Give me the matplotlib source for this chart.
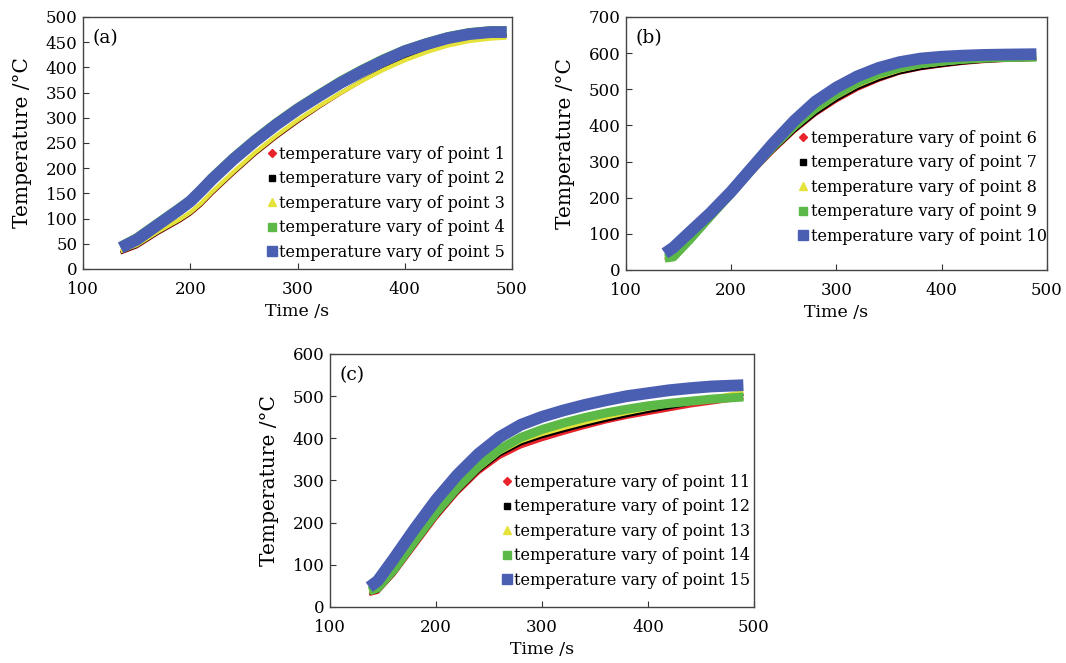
import matplotlib
matplotlib.use("Agg")
import matplotlib.pyplot as plt
from matplotlib.lines import Line2D

plt.rcParams['font.family'] = ['DejaVu Serif']
plt.rcParams['font.size'] = 11.5

# colours / markers used for the five measuring points in every panel
colors = ['#e8232b', '#000000', '#e6e23c', '#5cb947', '#4b5fb2']
markers = ['D', 's', '^', 's', 's']
msizes = [4, 5, 6, 6, 7.5]
widths = [2.5, 2.5, 3.0, 6.5, 8.5]

# ---- panel (a): points 1-5
time_a = [135, 150, 170, 190, 200, 210, 220, 240, 260, 280, 300, 320, 340, 360, 380, 400, 420, 440, 460, 480, 495]
temp_a1 = [32, 44, 71, 95, 109, 127, 149, 189, 227, 261, 292, 321, 348, 373, 396, 416, 433, 447, 457, 463, 465]
temp_a2 = [33, 45, 72, 96, 110, 128, 150, 190, 228, 262, 293, 322, 349, 374, 397, 417, 434, 448, 458, 462, 463]
temp_a3 = [35, 47, 74, 98, 112, 130, 152, 192, 230, 264, 295, 323, 349, 373, 395, 414, 430, 443, 452, 457, 459]
temp_a4 = [45, 62, 92, 122, 137, 158, 181, 221, 257, 290, 320, 347, 373, 396, 417, 435, 449, 461, 469, 473, 473]
temp_a5 = [42, 58, 88, 118, 134, 155, 177, 217, 253, 286, 316, 343, 369, 392, 413, 432, 446, 458, 466, 470, 470]

# ---- panel (b): points 6-10
time_b = [137, 145, 160, 180, 200, 220, 240, 260, 280, 300, 320, 340, 360, 380, 400, 420, 440, 460, 490]
temp_b6 = [28, 30, 73, 138, 203, 268, 328, 383, 430, 468, 500, 525, 545, 557, 565, 572, 577, 580, 583]
temp_b7 = [30, 31, 75, 140, 205, 270, 330, 385, 432, 471, 503, 527, 546, 558, 566, 573, 578, 581, 583]
temp_b8 = [31, 33, 78, 143, 208, 274, 335, 391, 439, 478, 510, 534, 552, 564, 571, 577, 581, 583, 585]
temp_b9 = [33, 36, 82, 148, 212, 279, 342, 399, 448, 487, 519, 543, 560, 571, 578, 583, 586, 588, 589]
temp_b10 = [46, 62, 103, 157, 217, 284, 351, 413, 466, 505, 536, 559, 575, 585, 590, 593, 595, 596, 597]

# ---- panel (c): points 11-15
time_c = [137, 145, 160, 180, 200, 220, 240, 260, 280, 300, 320, 340, 360, 380, 400, 420, 440, 460, 490]
temp_c11 = [30, 35, 76, 143, 210, 269, 318, 355, 380, 397, 412, 426, 439, 450, 459, 468, 477, 484, 495]
temp_c12 = [33, 37, 78, 146, 213, 272, 322, 361, 387, 404, 418, 431, 443, 454, 464, 473, 482, 490, 505]
temp_c13 = [35, 40, 82, 150, 217, 276, 326, 366, 393, 410, 424, 437, 449, 460, 470, 479, 488, 496, 510]
temp_c14 = [38, 45, 88, 157, 224, 283, 334, 374, 402, 421, 436, 449, 460, 469, 477, 483, 488, 493, 498]
temp_c15 = [47, 62, 114, 186, 254, 313, 363, 403, 432, 451, 466, 479, 490, 500, 507, 514, 519, 523, 526]

x_ticks = [100, 200, 300, 400, 500]


def draw_panel(ax, t, series, labels, ymax, ystep, tag, leg_anchor):
    for i, y in enumerate(series):
        ax.plot(t, y, color=colors[i], lw=widths[i], solid_capstyle='butt',
                solid_joinstyle='round', zorder=2 + i)
    ax.set_xlim(100, 500)
    ax.set_ylim(0, ymax)
    ax.set_xticks(x_ticks)
    ax.set_yticks(range(0, ymax + 1, ystep))
    ax.tick_params(direction='in', length=4, width=0.8, color='#333333',
                   labelsize=12)
    ax.tick_params(axis='x', pad=9)
    ax.tick_params(axis='y', pad=4)
    for sp in ax.spines.values():
        sp.set_color('#444444')
        sp.set_linewidth(1.0)
    ax.set_xlabel('Time /s', fontsize=12.5, labelpad=3)
    ax.set_ylabel('Temperature /°C', fontsize=14.5, labelpad=10)
    ax.text(0.022, 0.915, tag, transform=ax.transAxes, va='center', ha='left',
            fontsize=13.5)

    handles = [Line2D([], [], ls='none', marker=markers[i], color=colors[i],
                      markersize=msizes[i]) for i in range(5)]
    ax.legend(handles, labels, loc='lower left', bbox_to_anchor=leg_anchor,
              frameon=False, handlelength=0.6, handletextpad=0.15,
              labelspacing=0.47, borderpad=0, borderaxespad=0)


fig = plt.figure(figsize=(10.66, 6.63), dpi=100)

ax_a = fig.add_axes([0.0779, 0.5943, 0.4024, 0.3801])
draw_panel(ax_a, time_a, [temp_a1, temp_a2, temp_a3, temp_a4, temp_a5],
           ['temperature vary of point %d' % k for k in range(1, 6)],
           500, 50, '(a)', (0.43, 0.032))

ax_b = fig.add_axes([0.5872, 0.5928, 0.3949, 0.3816])
draw_panel(ax_b, time_b, [temp_b6, temp_b7, temp_b8, temp_b9, temp_b10],
           ['temperature vary of point %d' % k for k in range(6, 11)],
           700, 100, '(b)', (0.41, 0.1))

ax_c = fig.add_axes([0.3096, 0.0845, 0.3977, 0.3816])
draw_panel(ax_c, time_c, [temp_c11, temp_c12, temp_c13, temp_c14, temp_c15],
           ['temperature vary of point %d' % k for k in range(11, 16)],
           600, 100, '(c)', (0.405, 0.072))

fig.savefig('out.png', dpi=100)
